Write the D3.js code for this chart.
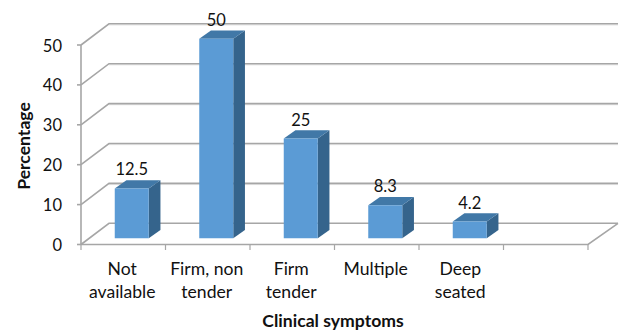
<!DOCTYPE html>
<html><head><meta charset="utf-8">
<script src="https://cdn.jsdelivr.net/npm/d3@7/dist/d3.min.js"></script>
<style>html,body{margin:0;padding:0;background:#fff}svg{display:block}text{font-family:Lato,Carlito,"Open Sans",sans-serif;fill:#111}</style>
</head><body><div id="c"></div>
<script>
const categories=[["Not","available"],["Firm, non","tender"],["Firm","tender"],["Multiple"],["Deep","seated"],[]];
const values=[12.5,50,25,8.3,4.2,null];
const valueLabels=["12.5","50","25","8.3","4.2",""];
const yTicks=[0,10,20,30,40,50];
const W=622,H=331;
const svg=d3.select("#c").append("svg").attr("width",W).attr("height",H);
const x=d3.scaleBand().domain(d3.range(categories.length)).range([81,588]);
const y=d3.scaleLinear().domain([0,50]).range([244.5,45]);
const wall={dx:28,dy:-21.2};
const floorDx=30;
const bar={dx:11.7,dy:-8.2,w:34,base:-6.2,shift:8.5};
const grid="#a6a6a6";
const g=svg.append("g").attr("fill","none").attr("stroke",grid).attr("stroke-width",1.6);
g.selectAll("line.s").data(yTicks.slice(1)).join("line")
 .attr("x1",x.range()[0]+wall.dx).attr("x2",x.range()[1]+floorDx)
 .attr("y1",d=>y(d)+wall.dy+1.2).attr("y2",d=>y(d)+wall.dy+1.2).attr("stroke","#e6e6e6").attr("stroke-width",1);
g.selectAll("path.g").data(yTicks).join("path")
 .attr("d",d=>d3.line()([[x.range()[0],y(d)],[x.range()[0]+wall.dx,y(d)+wall.dy],[x.range()[1]+floorDx,y(d)+wall.dy]]));
g.append("path").attr("d",d3.line()([[x.range()[0],y(0)],[x.range()[1],y(0)],[x.range()[1]+floorDx,y(0)+wall.dy]]));
g.append("line").attr("x1",81).attr("x2",81).attr("y1",y(50)).attr("y2",y(0));
g.selectAll("line.ty").data(yTicks).join("line").attr("x1",77).attr("x2",81).attr("y1",d=>y(d)).attr("y2",d=>y(d));
g.selectAll("line.tx").data(d3.range(categories.length+1)).join("line")
 .attr("x1",i=>x.range()[0]+i*x.bandwidth()).attr("x2",i=>x.range()[0]+i*x.bandwidth())
 .attr("y1",y(0)).attr("y2",y(0)+5.5).attr("stroke-width",1.2);
const data=values.map((v,i)=>({v,i,label:valueLabels[i]})).filter(d=>d.v!==null);
const bars=svg.append("g").selectAll("g").data(data).join("g");
const L=d=>x(d.i)+x.bandwidth()/2+bar.shift-bar.w/2, R=d=>L(d)+bar.w;
const T=d=>y(d.v)+bar.base, B=()=>y(0)+bar.base;
const poly=f=>d=>d3.line()(f(d))+"Z";
bars.append("path").attr("fill","#35648c").attr("d",poly(d=>[[R(d),T(d)],[R(d)+bar.dx,T(d)+bar.dy],[R(d)+bar.dx,B()+bar.dy],[R(d),B()]]));
bars.append("path").attr("fill","#4178a7").attr("d",poly(d=>[[L(d),T(d)],[L(d)+bar.dx,T(d)+bar.dy],[R(d)+bar.dx,T(d)+bar.dy],[R(d),T(d)]]));
bars.append("path").attr("fill","#5b9bd5").attr("d",poly(d=>[[L(d),T(d)],[R(d),T(d)],[R(d),B()],[L(d),B()]]));
bars.append("text").attr("x",d=>(L(d)+R(d))/2).attr("y",d=>T(d)-13).attr("text-anchor","middle").attr("font-size",16.5).text(d=>d.label);
svg.append("g").selectAll("text").data(yTicks).join("text").attr("x",62).attr("y",d=>y(d)+6.5).attr("text-anchor","end").attr("font-size",16.5).text(d=>d);
svg.append("g").selectAll("text").data(categories).join("text")
 .attr("text-anchor","middle").attr("font-size",17.6)
 .each(function(lines,i){
   d3.select(this).selectAll("tspan").data(lines).join("tspan")
     .attr("x",x(i)+x.bandwidth()/2-1).attr("y",(_,j)=>275+j*23).text(t=>t);
 });
svg.append("text").attr("x",333).attr("y",327).attr("text-anchor","middle").attr("font-size",17.6).attr("font-weight",700).text("Clinical symptoms");
svg.append("text").attr("transform","translate(30,146) rotate(-90)").attr("text-anchor","middle").attr("font-size",17.6).attr("font-weight",700).text("Percentage");
</script></body></html>
